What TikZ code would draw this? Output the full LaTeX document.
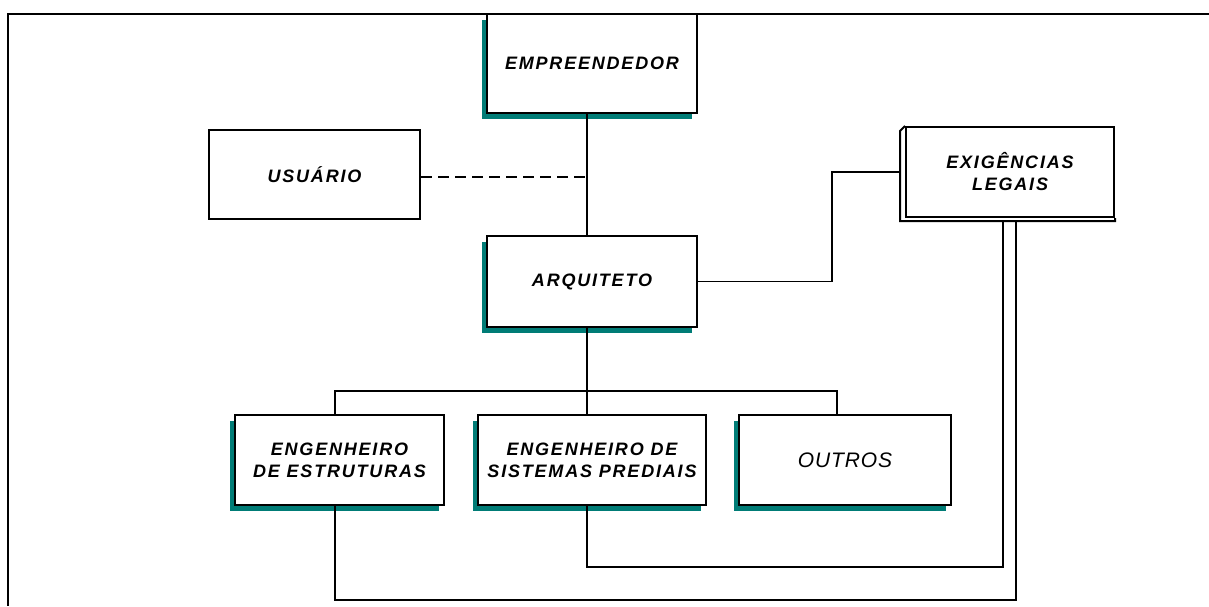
\documentclass[tikz,border=0pt]{standalone}
\usepackage{fontspec}
\newfontfamily\boxfont[LetterSpace=10]{Liberation Sans}
\newfontfamily\otherfont[LetterSpace=4]{Liberation Sans}
\usetikzlibrary{shadows}
\definecolor{shadowteal}{RGB}{0,124,118}

\begin{document}
\begin{tikzpicture}[x=1pt, y=-1pt,
  box/.style={draw, line width=2pt, fill=white, inner sep=0pt,
    minimum width=210pt, minimum height=90pt, align=center,
    font=\boxfont\bfseries\itshape\fontsize{18}{22}\selectfont},
  shadowed/.style={drop shadow={shadow xshift=-5pt, shadow yshift=-6pt,
    fill=shadowteal, opacity=1}},
  link/.style={draw, line width=1.8pt}]
  \useasboundingbox (0,0) rectangle (1209,606);
  \path[draw, line width=2pt] (1209,14) -- (8,14) -- (8,606);

  \node[box, shadowed, minimum height=99pt] (empreendedor) at (592,63.5) {\raisebox{-6pt}{EMPREENDEDOR}};
  \node[box, minimum width=211pt, minimum height=89pt] (usuario) at (314.5,174.5) {USUÁRIO};
  \node[box, shadowed, minimum height=91pt] (arquiteto) at (592,281.5) {\raisebox{-2pt}{ARQUITETO}};
  \node[box, minimum width=208pt] (legais) at (1010,172) {EXIGÊNCIAS\\LEGAIS};
  \node[box, shadowed, minimum width=209pt] (estruturas) at (339.5,460) {ENGENHEIRO\\DE ESTRUTURAS};
  \node[box, shadowed, minimum width=228pt] (prediais) at (592,460) {ENGENHEIRO DE\\SISTEMAS PREDIAIS};
  \node[box, shadowed, minimum width=212pt,
    font=\otherfont\itshape\fontsize{21}{24}\selectfont] (outros) at (845,460) {\raisebox{-4pt}{OUTROS}};

  \path[draw, line width=2pt] (legais.north west) -- ++(-5,5)
    -- ([xshift=-5pt, yshift=-3pt]legais.south west)
    -- ([yshift=-3pt]legais.south east) -- (legais.south east);

  \coordinate (spine) at (587,0);
  \coordinate (bend) at (832,0);
  \coordinate (inner) at (1003,567);
  \coordinate (outer) at (1016,600);

  \path[link] (empreendedor.south -| spine) -- (arquiteto.north -| spine);
  \path[link, dash pattern=on 11pt off 6pt] ([yshift=-2.5pt]usuario.east) -- ([yshift=-2.5pt]usuario.east -| spine);
  \path[link] (arquiteto.east) -- (arquiteto.east -| bend)
    |- ([xshift=-5pt]legais.west);
  \path[link] (arquiteto.south -| spine) -- (prediais.north -| spine);
  \path[link] ([xshift=-4.5pt]estruturas.north) -- ++(0,-23)
    -| ([xshift=-8pt]outros.north);
  \path[link] (prediais.south -| spine) |- (inner)
    -- ([yshift=-3pt]inner |- legais.south);
  \path[link] ([xshift=-4.5pt]estruturas.south) |- (outer)
    -- ([yshift=-3pt]outer |- legais.south);
\end{tikzpicture}
\end{document}
